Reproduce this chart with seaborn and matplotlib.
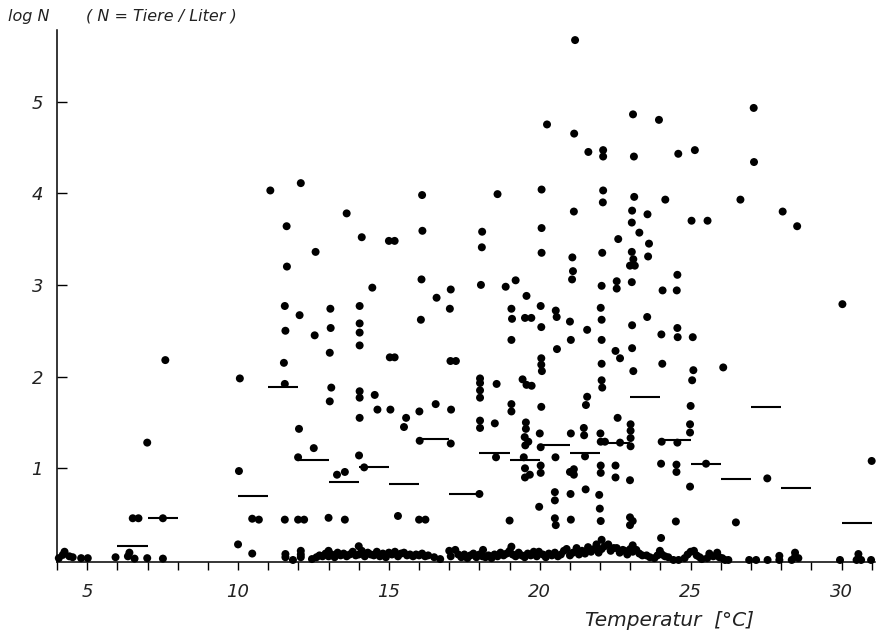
import numpy as np
import pandas as pd
import matplotlib
matplotlib.use("Agg")
import matplotlib.pyplot as plt
from matplotlib.ticker import MultipleLocator, FixedLocator
import seaborn as sns

# ---------------- data ----------------
# scattered samples: temperature [°C] and log N
scatter_temp = [
    6.99, 10.03, 6.51, 6.70, 7.51, 10.0,
    11.07, 12.08, 11.61, 12.57, 11.62, 11.55, 12.04, 13.06, 11.57, 12.54, 13.07, 13.04, 7.59, 11.52,
    10.06, 11.55, 13.09, 13.04, 12.02,
    21.17, 20.24, 21.14, 16.1, 18.6, 20.06, 13.6, 21.13, 14.1, 15.0, 15.19, 16.11, 18.09, 18.08,
    20.06, 20.06, 21.08, 21.1, 21.07, 16.08,
    23.09, 23.95, 27.09, 21.61, 22.1, 22.1, 23.12, 24.59, 25.14, 27.1, 22.1, 22.09, 23.13, 24.16,
    26.65, 23.06, 23.57, 23.05, 25.03, 25.56, 28.05, 28.53, 23.3, 22.6, 23.62, 22.07, 23.05, 23.59,
    23.1, 22.99, 23.15, 24.56,
    14.45, 14.03, 14.03, 14.03, 14.03, 16.58, 17.05, 17.02, 16.06, 18.05, 18.87, 19.2, 19.56, 19.06,
    19.08, 19.51, 19.72, 20.03, 20.05, 19.06, 20.53, 20.56, 21.0, 21.03, 20.57, 15.03, 15.19, 17.04,
    17.22, 20.05, 20.05, 20.07, 19.43, 19.56, 19.73, 18.02, 18.02, 18.02, 18.02, 18.57, 14.03, 14.03,
    14.53, 14.62, 15.05, 14.03, 15.57, 15.5, 16.01, 16.55, 17.06, 19.06, 19.06, 20.05, 18.02, 18.02,
    18.51, 19.54, 19.54, 20.0, 21.03,
    22.05, 22.55, 22.55, 23.05, 24.07, 24.54, 30.03, 22.02, 22.05, 21.57, 23.06, 23.56, 24.03, 24.56,
    24.57, 25.07, 22.05, 22.51, 22.66, 23.06, 22.05, 23.1, 24.06, 26.08, 25.09, 25.05, 22.05, 22.07,
    21.57, 21.53, 25.0, 22.58, 21.46, 21.47, 23.01, 23.01, 23.01, 22.01, 24.98, 24.98,
    11.99, 12.51, 14.01, 14.18, 13.28, 13.54, 16.02, 17.05, 10.47, 10.69, 11.55, 11.99, 12.19, 13.0,
    13.54, 15.30, 16.0, 16.21,
    18.0, 19.5, 19.62, 19.52, 18.55, 19.47, 20.03, 20.52, 21.5, 22.02, 22.16, 22.66, 23.01, 24.04,
    19.51, 19.67, 19.51, 20.03, 20.03, 21.0, 21.13, 21.13, 22.02, 22.02, 22.51, 22.51, 22.99, 24.02,
    20.5, 20.5, 21.02, 21.52, 21.97, 21.99, 19.98, 19.0, 20.5, 20.53, 21.03, 22.02, 22.99, 23.08,
    22.99, 24.02,
    24.56, 24.53, 24.53, 25.51, 24.98, 27.54, 31.0, 24.51, 26.5,
]
scatter_logn = [
    1.28, 0.97, 0.455, 0.455, 0.455, 0.17,
    4.03, 4.11, 3.64, 3.36, 3.20, 2.77, 2.67, 2.74, 2.50, 2.45, 2.53, 2.26, 2.18, 2.15,
    1.98, 1.92, 1.88, 1.73, 1.43,
    5.67, 4.75, 4.65, 3.98, 3.99, 4.04, 3.78, 3.80, 3.52, 3.48, 3.48, 3.59, 3.58, 3.41,
    3.62, 3.35, 3.30, 3.15, 3.06, 3.06,
    4.86, 4.80, 4.93, 4.45, 4.47, 4.40, 4.40, 4.43, 4.47, 4.34, 4.03, 3.90, 3.96, 3.93,
    3.93, 3.81, 3.77, 3.68, 3.70, 3.70, 3.80, 3.64, 3.57, 3.50, 3.45, 3.35, 3.36, 3.31,
    3.28, 3.21, 3.21, 3.11,
    2.97, 2.77, 2.58, 2.48, 2.34, 2.86, 2.95, 2.74, 2.62, 3.0, 2.98, 3.05, 2.88, 2.74,
    2.63, 2.64, 2.64, 2.77, 2.54, 2.40, 2.72, 2.65, 2.60, 2.40, 2.30, 2.21, 2.21, 2.17,
    2.17, 2.20, 2.13, 2.06, 1.97, 1.91, 1.90, 1.98, 1.93, 1.85, 1.77, 1.92, 1.84, 1.77,
    1.80, 1.64, 1.64, 1.55, 1.55, 1.45, 1.62, 1.70, 1.64, 1.70, 1.62, 1.67, 1.52, 1.44,
    1.49, 1.50, 1.43, 1.38, 1.38,
    2.99, 3.04, 2.96, 3.03, 2.94, 2.94, 2.79, 2.75, 2.62, 2.51, 2.56, 2.65, 2.46, 2.53,
    2.43, 2.43, 2.40, 2.28, 2.20, 2.31, 2.14, 2.06, 2.14, 2.10, 2.07, 1.96, 1.96, 1.88,
    1.78, 1.69, 1.68, 1.55, 1.44, 1.36, 1.48, 1.41, 1.33, 1.38, 1.48, 1.39,
    1.12, 1.22, 1.14, 1.01, 0.93, 0.96, 1.30, 1.27, 0.45, 0.44, 0.44, 0.44, 0.44, 0.46,
    0.44, 0.48, 0.44, 0.44,
    0.72, 1.34, 1.29, 1.25, 1.12, 1.12, 1.23, 1.12, 1.13, 1.29, 1.29, 1.28, 1.24, 1.29,
    1.0, 0.93, 0.90, 1.03, 0.95, 0.96, 0.99, 0.93, 1.03, 0.95, 1.03, 0.90, 0.87, 1.05,
    0.74, 0.65, 0.72, 0.77, 0.71, 0.56, 0.58, 0.43, 0.455, 0.38, 0.44, 0.425, 0.465, 0.425,
    0.38, 0.24,
    1.28, 1.04, 0.96, 1.05, 0.80, 0.89, 1.08, 0.42, 0.41,
]

# samples with (almost) no animals, lying along the temperature axis
band_temp = [
    4.06, 4.19, 4.25, 4.41, 4.52, 4.8, 5.02, 5.94, 6.35, 6.4, 6.57, 6.99, 7.51,
    10.47, 11.57, 11.57, 11.82, 12.08, 12.08, 12.08,
    12.45, 12.6, 12.7, 12.8, 12.9, 13.0, 13.0, 13.1, 13.2, 13.3,
    13.4, 13.5, 13.6, 13.7, 13.8, 13.9, 14.0, 14.0, 14.1, 14.2,
    14.3, 14.4, 14.5, 14.6, 14.7, 14.8, 14.9, 15.0, 15.1, 15.2,
    15.3, 15.4, 15.5, 15.6, 15.7, 15.8, 15.9, 16.0, 16.1, 16.2,
    16.3, 16.5, 16.7, 17.0, 17.05, 17.2, 17.3,
    17.4, 17.5, 17.6, 17.7, 17.8, 17.9, 18.0, 18.1, 18.12, 18.2, 18.3, 18.4, 18.5, 18.6, 18.7,
    18.8, 18.9, 19.0, 19.06, 19.1, 19.2, 19.3, 19.4, 19.5, 19.6, 19.7, 19.8, 19.9, 19.97,
    20.1, 20.2, 20.3, 20.4, 20.5, 20.6, 20.7, 20.8, 20.89, 21.0, 21.1, 21.22, 21.3, 21.4,
    21.5, 21.6, 21.7, 21.8, 21.88, 21.95, 22.05, 22.05, 22.15, 22.27, 22.35, 22.45, 22.55,
    22.65, 22.75, 22.82, 22.9, 23.0, 23.08, 23.08, 23.2, 23.3, 23.4, 23.54, 23.65, 23.8,
    23.9, 23.98, 24.05, 24.15, 24.26,
    24.43, 24.6, 24.8, 24.9, 25.0, 25.11, 25.2, 25.3, 25.37, 25.55, 25.62, 25.75, 25.88,
    25.95, 26.05, 26.14, 26.25, 26.94, 27.17, 27.55, 27.94, 27.94, 28.35, 28.46, 28.46,
    28.57, 29.95, 30.56, 30.56, 30.5, 30.65, 30.98,
]
band_logn = [
    0.02, 0.055, 0.09, 0.04, 0.03, 0.02, 0.02, 0.03, 0.04, 0.08, 0.015, 0.02, 0.015,
    0.07, 0.03, 0.065, 0.0, 0.1, 0.06, 0.03,
    0.01, 0.03, 0.05, 0.04, 0.07, 0.1, 0.04, 0.06, 0.03, 0.08,
    0.05, 0.07, 0.04, 0.06, 0.09, 0.05, 0.15, 0.06, 0.1, 0.04,
    0.08, 0.06, 0.05, 0.09, 0.04, 0.07, 0.03, 0.08, 0.06, 0.09,
    0.04, 0.07, 0.08, 0.05, 0.06, 0.04, 0.06, 0.05, 0.07, 0.04,
    0.05, 0.03, 0.01, 0.1, 0.04, 0.11, 0.06,
    0.03, 0.06, 0.02, 0.05, 0.07, 0.03, 0.06, 0.04, 0.11, 0.03, 0.05, 0.02, 0.06, 0.04, 0.08,
    0.05, 0.07, 0.1, 0.145, 0.06, 0.04, 0.08, 0.05, 0.03, 0.07, 0.05, 0.09, 0.04, 0.09,
    0.06, 0.03, 0.07, 0.05, 0.08, 0.04, 0.06, 0.1, 0.12, 0.05, 0.08, 0.13, 0.06, 0.1,
    0.07, 0.14, 0.09, 0.12, 0.17, 0.08, 0.22, 0.12, 0.15, 0.17, 0.1, 0.13, 0.13,
    0.08, 0.11, 0.1, 0.06, 0.12, 0.16, 0.09, 0.11, 0.07, 0.05, 0.05, 0.03, 0.02,
    0.05, 0.1, 0.06, 0.04, 0.03,
    0.0, 0.0, 0.02, 0.06, 0.09, 0.1, 0.05, 0.03, 0.01, 0.02, 0.07, 0.04, 0.08,
    0.03, 0.02, 0.0, 0.0, 0.0, 0.0, 0.0, 0.045, 0.0, 0.0, 0.08, 0.035,
    0.02, 0.0, 0.065, 0.02, 0.0, 0.0, 0.0,
]

# mean log N per 1 °C temperature class
class_start = [6, 7, 10, 11, 12, 13, 14, 15, 16, 17, 18, 19, 20, 21, 22, 23, 24, 25, 26, 27, 28, 30]
class_end = [7, 8, 11, 12, 13, 14, 15, 16, 17, 18, 19, 20, 21, 22, 23, 24, 25, 26, 27, 28, 29, 31]
class_mean = [0.155, 0.455, 0.70, 1.89, 1.09, 0.855, 1.01, 0.825, 1.32, 0.72, 1.17, 1.09,
              1.25, 1.17, 1.28, 1.78, 1.31, 1.05, 0.88, 1.665, 0.78, 0.40]

x_tick_labels = ["5", "10", "15", "20", "25", "30"]
y_tick_labels = ["1", "2", "3", "4", "5"]

# ---------------- figure ----------------
sns.set_theme(style="white")
plt.rcParams["font.family"] = ["DejaVu Sans"]

W, H = 879, 637
fig = plt.figure(figsize=(W / 100, H / 100), dpi=100)
ax = fig.add_axes([57 / W, (H - 562) / H, (875 - 57) / W, (562 - 30) / H])

df = pd.DataFrame({
    "temp": scatter_temp + band_temp,
    "logn": scatter_logn + band_logn,
})
sns.scatterplot(data=df, x="temp", y="logn", color="black", s=33, linewidth=0,
                edgecolor="none", ax=ax, legend=False, clip_on=False, zorder=3)

ax.hlines(class_mean, class_start, class_end, colors="black", linewidth=1.5, zorder=2)

ax.set_xlim(4.0, 31.11)
ax.set_ylim(-0.022, 5.78)

for s in ["top", "right"]:
    ax.spines[s].set_visible(False)
for s in ["left", "bottom"]:
    ax.spines[s].set_color("black")
    ax.spines[s].set_linewidth(1.1)

ax.xaxis.set_major_locator(FixedLocator([int(v) for v in x_tick_labels]))
ax.set_xticklabels(x_tick_labels)
ax.xaxis.set_minor_locator(MultipleLocator(1))
ax.yaxis.set_major_locator(FixedLocator([int(v) for v in y_tick_labels]))
ax.set_yticklabels(y_tick_labels)

ax.tick_params(axis="x", which="both", direction="out", length=6, width=1.0,
               color="black", bottom=True, pad=9, labelsize=13)
ax.tick_params(axis="y", which="major", direction="in", length=7, width=1.0,
               color="black", left=True, pad=10, labelsize=13)
for lab in ax.get_xticklabels() + ax.get_yticklabels():
    lab.set_fontstyle("italic")
    lab.set_color("#222222")

ax.set_xlabel("")
ax.set_ylabel("")
ax.grid(False)

fig.text(8 / W, 1 - 16 / H, "log N", fontsize=11.5, style="italic", va="center", ha="left", color="#222222")
fig.text(86 / W, 1 - 16 / H, "( N = Tiere / Liter )", fontsize=11.5, style="italic", va="center",
         ha="left", color="#222222")
fig.text(585 / W, 1 - 621 / H, "Temperatur  [°C]", fontsize=14.5, style="italic", va="center",
         ha="left", color="#222222")

fig.savefig("out.png", dpi=100, facecolor="white")
